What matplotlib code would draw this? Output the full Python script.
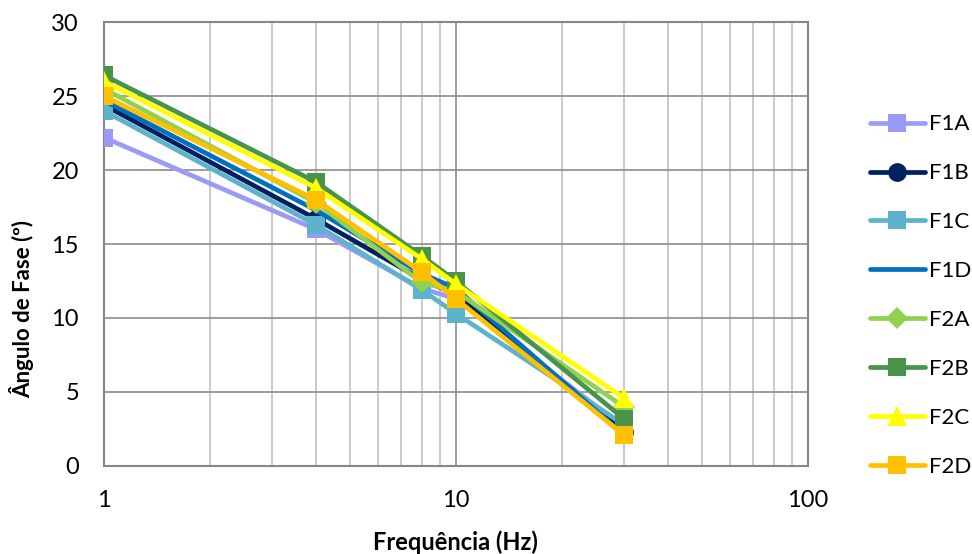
import matplotlib
matplotlib.use("Agg")
import matplotlib.pyplot as plt
from matplotlib.ticker import FixedLocator, NullFormatter, FixedFormatter

plt.rcParams['font.family'] = ['Lato', 'DejaVu Sans']

freq = [1, 4, 8, 10, 30]
series_names = ["F1A", "F1B", "F1C", "F1D", "F2A", "F2B", "F2C", "F2D"]
F1A = [22.2, 16.0, 12.0, 11.3, 2.6]
F1B = [24.4, 16.7, 12.6, 11.6, 2.3]
F1C = [24.0, 16.3, 11.9, 10.3, 2.8]
F1D = [24.7, 17.3, 13.0, 12.0, 2.1]
F2A = [25.5, 17.8, 12.4, 11.8, 4.0]
F2B = [26.4, 19.2, 14.2, 12.5, 3.2]
F2C = [26.0, 18.8, 14.0, 12.3, 4.6]
F2D = [25.0, 18.0, 13.1, 11.3, 2.1]
values = [F1A, F1B, F1C, F1D, F2A, F2B, F2C, F2D]

colors = ["#9B9BF7", "#002060", "#5DB3CB", "#0070C0",
          "#92D050", "#4A934A", "#FFFF00", "#FFC000"]
markers = ["s", "o", "s", None, "D", "s", "^", "s"]
msizes = [13.5, 13.5, 13.5, 0, 11.5, 13.5, 14.5, 13.5]

fig = plt.figure(figsize=(9.72, 5.54), dpi=100)
ax = fig.add_axes([0.107, 0.159, 0.724, 0.801])

for name, vals, c, m, ms in zip(series_names, values, colors, markers, msizes):
    ax.plot(freq, vals, color=c, lw=3.4, marker=m, markersize=ms,
            markeredgewidth=0, solid_capstyle='round', label=name, zorder=3)

ax.set_xscale('log')
ax.set_xlim(1, 100)
ax.set_ylim(0, 30)
ax.set_yticks(range(0, 31, 5))
ax.xaxis.set_major_locator(FixedLocator([1, 10, 100]))
ax.xaxis.set_major_formatter(FixedFormatter(["1", "10", "100"]))
minor = [m * d for d in (1, 10) for m in range(2, 10)]
ax.xaxis.set_minor_locator(FixedLocator(minor))
ax.xaxis.set_minor_formatter(NullFormatter())

ax.grid(which='major', axis='both', color='#8C8C8C', lw=1.2, zorder=0)
ax.grid(which='minor', axis='x', color='#C0C0C0', lw=1.2, zorder=0)
ax.set_axisbelow(True)
for s in ax.spines.values():
    s.set_color('#868686')
    s.set_linewidth(1.5)
ax.tick_params(which='both', length=0, labelsize=17, colors='black')
ax.tick_params(axis='y', pad=18)
ax.tick_params(axis='x', pad=17)

ax.set_xlabel("Frequência (Hz)", fontsize=17, fontweight='bold', labelpad=14)
ax.set_ylabel("Ângulo de Fase (º)", fontsize=16, fontweight='bold')
ax.yaxis.set_label_coords(-0.100, 0.354)

leg = ax.legend(loc='center left', bbox_to_anchor=(1.088, 0.384), frameon=False,
                fontsize=16, handlelength=2.5, handletextpad=0.15,
                labelspacing=1.3, borderaxespad=0, borderpad=0)

fig.savefig("out.png", dpi=100)
